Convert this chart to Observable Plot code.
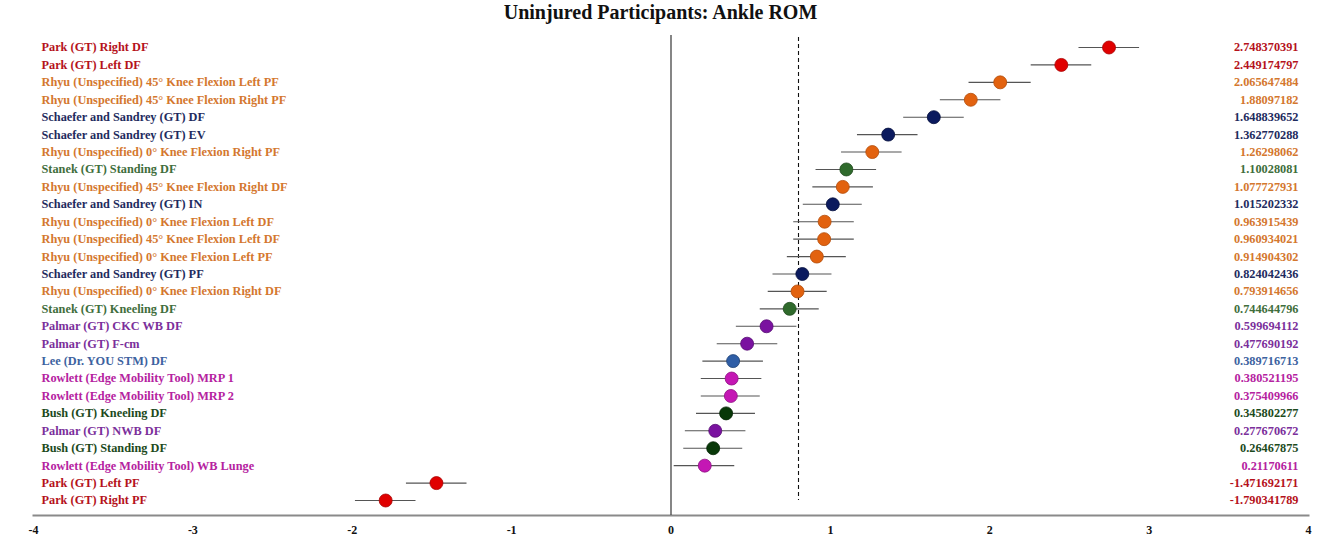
<!DOCTYPE html>
<html>
<head>
<meta charset="utf-8">
<script src="https://cdn.jsdelivr.net/npm/d3@7"></script>
<script src="https://cdn.jsdelivr.net/npm/@observablehq/plot@0.6"></script>
<style>
  html, body { margin: 0; padding: 0; background: #fff; }
  #title { width: 1321px; height: 24px; line-height: 24px; text-align: center;
           font-family: 'Liberation Serif', 'Times New Roman', serif; font-weight: bold; font-size: 20px; color: #111; }
  #chart svg { display: block; }
</style>
</head>
<body>
<div id="title">Uninjured Participants: Ankle ROM</div>
<div id="chart"></div>
<script>
const labels = [
  "Park (GT) Right DF",
  "Park (GT) Left DF",
  "Rhyu (Unspecified) 45° Knee Flexion Left PF",
  "Rhyu (Unspecified) 45° Knee Flexion Right PF",
  "Schaefer and Sandrey (GT) DF",
  "Schaefer and Sandrey (GT) EV",
  "Rhyu (Unspecified) 0° Knee Flexion Right PF",
  "Stanek (GT) Standing DF",
  "Rhyu (Unspecified) 45° Knee Flexion Right DF",
  "Schaefer and Sandrey (GT) IN",
  "Rhyu (Unspecified) 0° Knee Flexion Left DF",
  "Rhyu (Unspecified) 45° Knee Flexion Left DF",
  "Rhyu (Unspecified) 0° Knee Flexion Left PF",
  "Schaefer and Sandrey (GT) PF",
  "Rhyu (Unspecified) 0° Knee Flexion Right DF",
  "Stanek (GT) Kneeling DF",
  "Palmar (GT) CKC WB DF",
  "Palmar (GT) F-cm",
  "Lee (Dr. YOU STM) DF",
  "Rowlett (Edge Mobility Tool) MRP 1",
  "Rowlett (Edge Mobility Tool) MRP 2",
  "Bush (GT) Kneeling DF",
  "Palmar (GT) NWB DF",
  "Bush (GT) Standing DF",
  "Rowlett (Edge Mobility Tool) WB Lunge",
  "Park (GT) Left PF",
  "Park (GT) Right PF"
];
const valueText = [
  "2.748370391","2.449174797","2.065647484","1.88097182","1.648839652","1.362770288",
  "1.26298062","1.10028081","1.077727931","1.015202332","0.963915439","0.960934021",
  "0.914904302","0.824042436","0.793914656","0.744644796","0.599694112","0.477690192",
  "0.389716713","0.380521195","0.375409966","0.345802277","0.277670672","0.26467875",
  "0.21170611","-1.471692171","-1.790341789"
];
const lower = [2.56, 2.26, 1.87, 1.69, 1.46, 1.17, 1.07, 0.91, 0.89, 0.83, 0.77, 0.77, 0.73, 0.64,
  0.61, 0.56, 0.41, 0.29, 0.20, 0.19, 0.19, 0.16, 0.09, 0.08, 0.02, -1.66, -1.98];
const upper = [2.94, 2.64, 2.26, 2.07, 1.84, 1.55, 1.45, 1.29, 1.27, 1.20, 1.15, 1.15, 1.10, 1.01,
  0.98, 0.93, 0.79, 0.67, 0.58, 0.57, 0.56, 0.53, 0.47, 0.45, 0.40, -1.28, -1.60];
const studies = ["Park","Park","Rhyu","Rhyu","Schaefer","Schaefer","Rhyu","Stanek","Rhyu","Schaefer",
  "Rhyu","Rhyu","Rhyu","Schaefer","Rhyu","Stanek","Palmar","Palmar","Lee","Rowlett","Rowlett",
  "Bush","Palmar","Bush","Rowlett","Park","Park"];
const studyNames = ["Park","Rhyu","Schaefer","Stanek","Palmar","Lee","Rowlett","Bush"];
const dotColors  = ["#e00000","#e2620f","#0b1a5e","#2f6a2c","#7a12a0","#2f5ea6","#c417b4","#083808"];
const dotOutline = ["#a80000","#b34c0a","#050f3c","#1f4a1e","#560b72","#1f4275","#8e1083","#042404"];
const textColors = ["#b5121b","#d4772e","#1e2b5e","#3f6e3c","#7b2f9b","#3d62a0","#b5229f","#1c4a1c"];
const pooled = 0.80;
const xTicks = [-4,-3,-2,-1,0,1,2,3,4];

const dotBy = new Map(studyNames.map((s,i)=>[s,dotColors[i]]));
const outlineBy = new Map(studyNames.map((s,i)=>[s,dotOutline[i]]));
const textBy = new Map(studyNames.map((s,i)=>[s,textColors[i]]));
const rows = labels.map((label,i)=>({
  label, value: +valueText[i], valueText: valueText[i], lo: lower[i], hi: upper[i], study: studies[i]
}));

const font = "'Liberation Serif', 'Times New Roman', serif";

const chart = Plot.plot({
  width: 1321,
  height: 516,
  marginTop: 11,
  marginBottom: 25,
  marginLeft: 33,
  marginRight: 13,
  style: { fontFamily: font, background: "#fff" },
  x: { domain: [-4, 4] },
  y: { type: "point", domain: labels, padding: 0, round: false, range: [23, 476], axis: null },
  marks: [
    Plot.frame({ anchor: "bottom", stroke: "#8a8a8a", strokeWidth: 2 }),
    Plot.axisX({ ticks: xTicks, tickSize: 0, tickPadding: 10, tickFormat: d => String(d),
      fontWeight: "bold", fontSize: 12, fill: "#111", label: null }),
    Plot.ruleX([0], { stroke: "#444", strokeWidth: 1.3 }),
    Plot.ruleX([pooled], { y1: () => labels[0], y2: () => labels[labels.length - 1],
      insetTop: -10, stroke: "#111", strokeWidth: 1.1, strokeDasharray: "4,3" }),
    Plot.ruleY(rows, { y: "label", x1: "lo", x2: "hi", stroke: "#555", strokeWidth: 1.1 }),
    Plot.dot(rows, { y: "label", x: "value", r: 6.5,
      fill: d => dotBy.get(d.study), stroke: d => outlineBy.get(d.study), strokeWidth: 0.8 }),
    Plot.text(rows, { y: "label", text: "label", frameAnchor: "left", textAnchor: "start", dx: 8,
      fill: d => textBy.get(d.study), fontWeight: "bold", fontSize: 12.3 }),
    Plot.text(rows, { y: "label", text: "valueText", frameAnchor: "right", textAnchor: "end", dx: -10,
      fill: d => textBy.get(d.study), fontWeight: "bold", fontSize: 12.3 })
  ]
});
document.getElementById("chart").appendChild(chart);
</script>
</body>
</html>
